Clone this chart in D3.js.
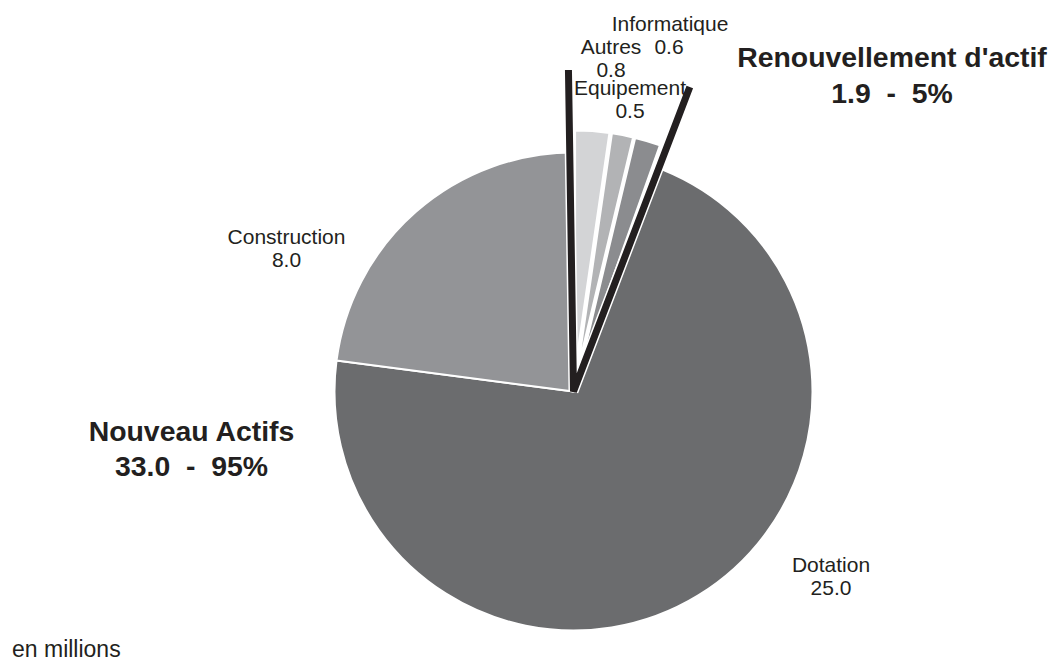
<!DOCTYPE html>
<html>
<head>
<meta charset="utf-8">
<script src="https://cdn.jsdelivr.net/npm/d3@7/dist/d3.min.js"></script>
<style>
  html, body { margin: 0; padding: 0; background: #ffffff; }
  svg { display: block; }
  text { font-family: "Liberation Sans", Arial, Helvetica, sans-serif; fill: #231f20; white-space: pre; }
</style>
</head>
<body>
<svg id="chart" width="1055" height="659"></svg>
<script>
// ---- Data ----
const categories = ["Autres", "Equipement", "Informatique", "Dotation", "Construction"];
const values = [0.8, 0.5, 0.6, 25.0, 8.0];
const groupOf = ["Renouvellement d'actif", "Renouvellement d'actif", "Renouvellement d'actif", "Nouveau Actifs", "Nouveau Actifs"];
const groupNames = ["Renouvellement d'actif", "Nouveau Actifs"];
const unitNote = "en millions";

// ---- Styling / layout ----
const W = 1055, H = 659;
const cx = 573.5, cy = 391.5, R = 239;
const explode = 22;
const sliceColors = ["#d3d4d6", "#b2b3b5", "#8b8c8f", "#6b6c6e", "#939497"];
const ink = "#231f20";
const labelFont = 21, groupFont = 28.4;
// label anchors (center x, first baseline) in pixels
const labelPos = {
  "Autres": [611, 54],
  "Equipement": [630, 94.5],
  "Informatique": [670, 31],
  "Dotation": [831, 572],
  "Construction": [286.5, 244]
};
const labelLine2 = { "Informatique": [669, 54] };
const groupPos = { "Renouvellement d'actif": [892, 67], "Nouveau Actifs": [191.5, 440.5] };
const lineLen = [321.5, 326];
const linePadDeg = [-0.9, 1.3];

const svg = d3.select("#chart");
const fmt = d3.format(".1f");
const pctFmt = d3.format(".0%");

const rows = categories.map((c, i) => ({ cat: c, value: values[i], group: groupOf[i], i }));
const total = d3.sum(values);

const pie = d3.pie().sort(null).value(d => d.value).startAngle(0).endAngle(2 * Math.PI);
const arcs = pie(rows);
const arc = d3.arc().innerRadius(0).outerRadius(R);

const g = svg.append("g").attr("transform", `translate(${cx},${cy})`);

function offset(a) {
  if (a.data.group !== groupNames[0]) return [0, 0];
  const m = (a.startAngle + a.endAngle) / 2;
  return [explode * Math.sin(m), -explode * Math.cos(m)];
}

g.selectAll("path.slice")
  .data(arcs)
  .join("path")
  .attr("class", "slice")
  .attr("d", arc)
  .attr("transform", a => { const o = offset(a); return `translate(${o[0]},${o[1]})`; })
  .attr("fill", a => sliceColors[a.data.i])
  .attr("stroke", "#ffffff")
  .attr("stroke-width", 2)
  .attr("stroke-linejoin", "round");

// group boundary lines around "Renouvellement d'actif"
const renArcs = arcs.filter(a => a.data.group === groupNames[0]);
const gStart = d3.min(renArcs, a => a.startAngle);
const gEnd = d3.max(renArcs, a => a.endAngle);
const toRad = Math.PI / 180;
const a1 = gStart + linePadDeg[0] * toRad, a2 = gEnd + linePadDeg[1] * toRad;
const p1 = [lineLen[0] * Math.sin(a1), -lineLen[0] * Math.cos(a1)];
const p2 = [lineLen[1] * Math.sin(a2), -lineLen[1] * Math.cos(a2)];
const vPath = d3.line()([p1, [0, 0], p2]);

g.append("path").attr("d", vPath).attr("fill", "none")
  .attr("stroke", "#ffffff").attr("stroke-width", 10)
  .attr("stroke-linejoin", "miter").attr("stroke-miterlimit", 1.2);
g.append("path").attr("d", vPath).attr("fill", "none")
  .attr("stroke", ink).attr("stroke-width", 7)
  .attr("stroke-linejoin", "miter").attr("stroke-miterlimit", 1.2);

// slice labels
rows.forEach(r => {
  const p = labelPos[r.cat];
  const t = svg.append("text").attr("text-anchor", "middle").attr("font-size", labelFont);
  if (labelLine2[r.cat]) {
    t.attr("x", p[0]).attr("y", p[1]).text(r.cat);
    const q = labelLine2[r.cat];
    svg.append("text").attr("text-anchor", "middle").attr("font-size", labelFont)
      .attr("x", q[0]).attr("y", q[1]).text(fmt(r.value));
  } else {
    t.append("tspan").attr("x", p[0]).attr("y", p[1]).text(r.cat);
    t.append("tspan").attr("x", p[0]).attr("y", p[1] + 23).text(fmt(r.value));
  }
});

// group labels
groupNames.forEach(gn => {
  const sum = d3.sum(rows.filter(r => r.group === gn), r => r.value);
  const p = groupPos[gn];
  const t = svg.append("text").attr("text-anchor", "middle").attr("font-size", groupFont).attr("font-weight", "bold");
  t.append("tspan").attr("x", p[0]).attr("y", p[1]).text(gn);
  t.append("tspan").attr("x", p[0]).attr("y", p[1] + 35.5).text(`${fmt(sum)}  -  ${pctFmt(sum / total)}`);
});

svg.append("text").attr("x", 12).attr("y", 657).attr("font-size", 23).text(unitNote);
</script>
</body>
</html>
